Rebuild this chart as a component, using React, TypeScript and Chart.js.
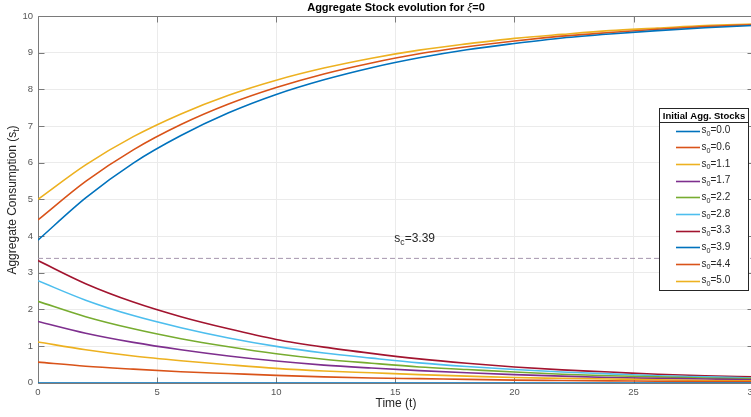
import React, { useEffect, useRef } from "react";
import { Chart, registerables } from "chart.js";

Chart.register(...registerables);

// ---------- data ----------
const timeSteps = [0, 2, 4, 6, 8, 10, 12, 14, 16, 18, 20, 22, 24, 26, 28, 30];

const legendLabels = ["0.0", "0.6", "1.1", "1.7", "2.2", "2.8", "3.3", "3.9", "4.4", "5.0"];

const path00 = [0, 0, 0, 0, 0, 0, 0, 0, 0, 0, 0, 0, 0, 0, 0, 0];
const path06 = [0.56, 0.45, 0.37, 0.3, 0.25, 0.2, 0.16, 0.13, 0.11, 0.09, 0.07, 0.06, 0.05, 0.04, 0.03, 0.03];
const path11 = [1.11, 0.9, 0.73, 0.6, 0.49, 0.39, 0.32, 0.27, 0.22, 0.18, 0.14, 0.12, 0.1, 0.08, 0.06, 0.05];
const path17 = [1.67, 1.35, 1.1, 0.9, 0.73, 0.59, 0.48, 0.4, 0.33, 0.27, 0.22, 0.18, 0.14, 0.12, 0.1, 0.08];
const path22 = [2.22, 1.8, 1.47, 1.2, 0.98, 0.79, 0.64, 0.53, 0.43, 0.36, 0.29, 0.23, 0.19, 0.16, 0.13, 0.11];
const path28 = [2.78, 2.25, 1.83, 1.5, 1.22, 0.99, 0.81, 0.67, 0.54, 0.44, 0.36, 0.29, 0.24, 0.19, 0.16, 0.13];
const path33 = [3.33, 2.7, 2.2, 1.8, 1.47, 1.18, 0.97, 0.8, 0.65, 0.53, 0.43, 0.35, 0.29, 0.23, 0.19, 0.16];
const path39 = [3.89, 5.04, 5.99, 6.74, 7.36, 7.86, 8.26, 8.59, 8.86, 9.08, 9.25, 9.4, 9.51, 9.6, 9.68, 9.74];
const path44 = [4.44, 5.49, 6.35, 7.04, 7.6, 8.05, 8.42, 8.72, 8.97, 9.16, 9.32, 9.45, 9.55, 9.64, 9.71, 9.76];
const path50 = [5.0, 5.94, 6.71, 7.33, 7.84, 8.25, 8.58, 8.85, 9.07, 9.24, 9.39, 9.5, 9.6, 9.67, 9.74, 9.78];

const seriesValues = [path00, path06, path11, path17, path22, path28, path33, path39, path44, path50];

const criticalStock = 3.39;
const criticalLabel = "=3.39";
const criticalLabelX = 15;

const xTickValues = [0, 5, 10, 15, 20, 25, 30];
const yTickValues = [0, 1, 2, 3, 4, 5, 6, 7, 8, 9, 10];

const titleText = "Aggregate Stock evolution for ";
const xAxisLabel = "Time (t)";
const yAxisLabel = "Aggregate Consumption (s";
const legendTitle = "Initial Agg. Stocks";

// ---------- styles ----------
const seriesColors = [
  "#0072BD", "#D95319", "#EDB120", "#7E2F8E", "#77AC30",
  "#4DBEEE", "#A2142F", "#0072BD", "#D95319", "#EDB120",
];
const FONT = '"Liberation Sans", Arial, Helvetica, sans-serif';

type Part = { t: string; sub?: boolean; italic?: boolean; bold?: boolean };

function drawParts(
  ctx: CanvasRenderingContext2D,
  parts: Part[],
  x: number,
  y: number,
  size: number,
  align: "left" | "center",
  color: string
) {
  const fontFor = (p: Part) =>
    `${p.italic ? "italic " : ""}${p.bold ? "bold " : ""}${p.sub ? size * 0.72 : size}px ${FONT}`;
  let total = 0;
  const widths = parts.map((p) => {
    ctx.font = fontFor(p);
    const w = ctx.measureText(p.t).width;
    total += w;
    return w;
  });
  let cx = align === "center" ? x - total / 2 : x;
  ctx.textBaseline = "middle";
  ctx.textAlign = "left";
  ctx.fillStyle = color;
  parts.forEach((p, i) => {
    ctx.font = fontFor(p);
    ctx.fillText(p.t, cx, p.sub ? y + size * 0.32 : y);
    cx += widths[i];
  });
}

const decorPlugin = {
  id: "decor",
  beforeDatasetsDraw(chart: any) {
    const { ctx, chartArea: a, scales } = chart;
    const L = Math.round(a.left) + 0.5;
    const R = Math.round(a.right) + 0.5;
    const T = Math.round(a.top) + 0.5;
    const B = Math.round(a.bottom) + 0.5;
    ctx.save();
    ctx.strokeStyle = "#7a7a7a";
    ctx.lineWidth = 1;
    ctx.beginPath();
    ctx.moveTo(L, B);
    ctx.lineTo(L, T);
    ctx.lineTo(R, T);
    ctx.lineTo(R, B);
    ctx.lineTo(L, B);
    const tl = 6;
    xTickValues.forEach((v) => {
      const px = Math.round(scales.x.getPixelForValue(v)) + 0.5;
      ctx.moveTo(px, T);
      ctx.lineTo(px, T + tl);
      ctx.moveTo(px, B);
      ctx.lineTo(px, B - tl);
    });
    yTickValues.forEach((v) => {
      const py = Math.round(scales.y.getPixelForValue(v)) + 0.5;
      ctx.moveTo(L, py);
      ctx.lineTo(L + tl, py);
      ctx.moveTo(R, py);
      ctx.lineTo(R - tl, py);
    });
    ctx.stroke();
    ctx.restore();
  },
  afterDraw(chart: any) {
    const { ctx, chartArea: a, scales } = chart;
    ctx.save();
    // title
    drawParts(
      ctx,
      [
        { t: titleText, bold: true },
        { t: "ξ", italic: true },
        { t: "=0", bold: true },
      ],
      396,
      8,
      11,
      "center",
      "#000000"
    );
    // x label
    drawParts(ctx, [{ t: xAxisLabel }], 396, 404, 12, "center", "#262626");
    // y label
    ctx.save();
    ctx.translate(13, 200);
    ctx.rotate(-Math.PI / 2);
    drawParts(ctx, [{ t: yAxisLabel }, { t: "t", sub: true }, { t: ")" }], 0, 0, 12, "center", "#262626");
    ctx.restore();
    // critical annotation
    const ax = scales.x.getPixelForValue(criticalLabelX) - 1;
    const ay = scales.y.getPixelForValue(criticalStock) - 20;
    drawParts(ctx, [{ t: "s" }, { t: "c", sub: true }, { t: criticalLabel }], ax, ay, 12, "left", "#262626");

    // legend
    const bx = 659.5, by = 108.5, bw = 89, bh = 182;
    ctx.fillStyle = "#ffffff";
    ctx.fillRect(bx, by, bw, bh);
    ctx.strokeStyle = "#262626";
    ctx.lineWidth = 1;
    ctx.strokeRect(bx, by, bw, bh);
    ctx.beginPath();
    ctx.moveTo(bx, 122.5);
    ctx.lineTo(bx + bw, 122.5);
    ctx.stroke();
    drawParts(ctx, [{ t: legendTitle, bold: true }], bx + bw / 2, 116, 9.5, "center", "#000000");
    legendLabels.forEach((lab, i) => {
      const y = 130.7 + i * 16.67;
      ctx.strokeStyle = seriesColors[i];
      ctx.lineWidth = 1.6;
      ctx.beginPath();
      ctx.moveTo(676, Math.round(y) + 0.5);
      ctx.lineTo(700, Math.round(y) + 0.5);
      ctx.stroke();
      drawParts(ctx, [{ t: "s" }, { t: "0", sub: true }, { t: "=" + lab }], 701.5, y, 10, "left", "#262626");
    });
    ctx.restore();
  },
};

export default function App() {
  const ref = useRef<HTMLCanvasElement | null>(null);
  useEffect(() => {
    if (!ref.current) return;
    const datasets: any[] = seriesValues.map((vals, i) => ({
      label: "s0=" + legendLabels[i],
      data: timeSteps.map((t, j) => ({ x: t, y: vals[j] })),
      borderColor: seriesColors[i],
      backgroundColor: seriesColors[i],
      borderWidth: 1.6,
      pointRadius: 0,
      cubicInterpolationMode: "monotone",
      fill: false,
    }));
    datasets.push({
      label: "critical",
      data: [
        { x: 0, y: criticalStock },
        { x: 30, y: criticalStock },
      ],
      borderColor: "#a596ae",
      borderWidth: 1,
      borderDash: [5, 3],
      pointRadius: 0,
      fill: false,
    });
    const chart = new Chart(ref.current, {
      type: "line",
      data: { datasets },
      options: {
        animation: false,
        responsive: false,
        layout: { padding: { top: 16, left: 0, right: 7.4, bottom: 0 } },
        plugins: { legend: { display: false }, title: { display: false }, tooltip: { enabled: false } },
        scales: {
          x: {
            type: "linear",
            min: 0,
            max: 30,
            afterBuildTicks: (s: any) => {
              s.ticks = xTickValues.map((v) => ({ value: v }));
            },
            afterFit: (s: any) => {
              s.height = 34.3;
            },
            ticks: {
              color: "#555555",
              font: { family: FONT, size: 9.5 },
              padding: 4,
              maxRotation: 0,
              autoSkip: false,
            },
            grid: { color: "#ebebeb", drawTicks: false },
            border: { display: false },
          },
          y: {
            type: "linear",
            min: 0,
            max: 10,
            afterBuildTicks: (s: any) => {
              s.ticks = yTickValues.map((v) => ({ value: v }));
            },
            afterFit: (s: any) => {
              s.width = 38;
            },
            ticks: {
              color: "#555555",
              font: { family: FONT, size: 9.5 },
              padding: 5,
              autoSkip: false,
            },
            grid: { color: "#ebebeb", drawTicks: false },
            border: { display: false },
          },
        },
      },
      plugins: [decorPlugin],
    } as any);
    return () => chart.destroy();
  }, []);
  return (
    <div
      style={{
        position: "fixed",
        left: 0,
        top: 0,
        width: 751,
        height: 417,
        overflow: "hidden",
        background: "#ffffff",
      }}
    >
      <canvas ref={ref} width={762} height={417} style={{ display: "block" }} />
    </div>
  );
}
